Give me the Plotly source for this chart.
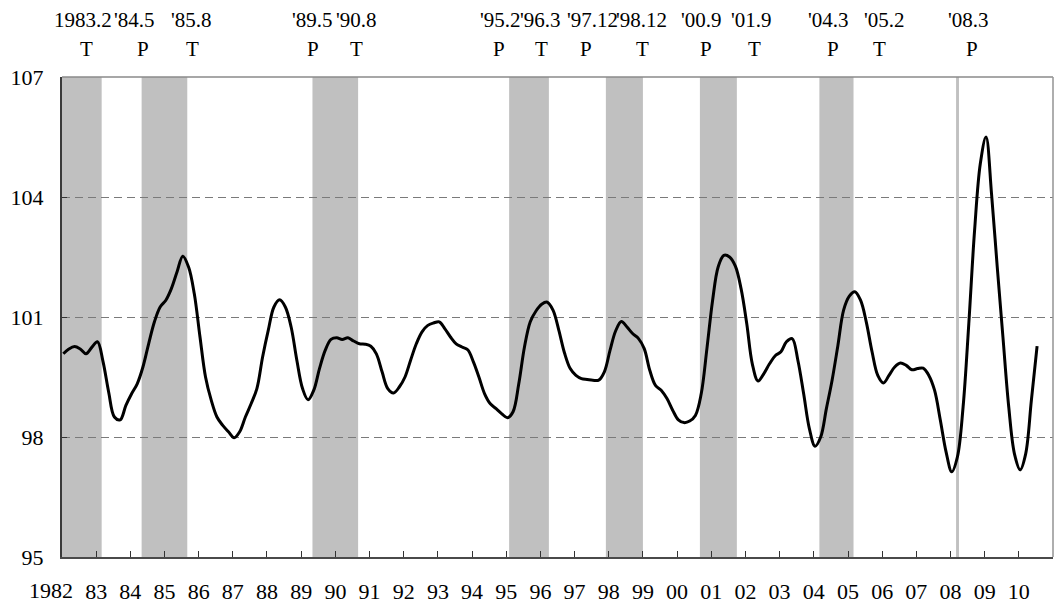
import pandas as pd
import plotly.graph_objects as go

# ---------------- data ----------------
# composite index, sampled every two months (Jan, Mar, May, Jul, Sep, Nov), Jan 1982 - Jul 2010
values = [
    100.08, 100.20, 100.26, 100.20, 100.08, 100.24,   # 1982
    100.38, 99.89, 99.12, 98.50, 98.43, 98.79,        # 1983
    99.08, 99.33, 99.75, 100.33, 100.88, 101.25,      # 1984
    101.42, 101.71, 102.13, 102.52, 102.25, 101.58,   # 1985
    100.50, 99.50, 98.92, 98.50, 98.29, 98.13,        # 1986
    97.98, 98.13, 98.50, 98.83, 99.21, 100.00,        # 1987
    100.67, 101.25, 101.43, 101.25, 100.75, 99.92,    # 1988
    99.21, 98.93, 99.17, 99.71, 100.17, 100.44,       # 1989
    100.48, 100.44, 100.48, 100.40, 100.33, 100.32,   # 1990
    100.27, 100.08, 99.63, 99.21, 99.10, 99.25,       # 1991
    99.50, 99.92, 100.33, 100.63, 100.79, 100.85,     # 1992
    100.88, 100.71, 100.50, 100.33, 100.25, 100.18,   # 1993
    99.88, 99.50, 99.08, 98.83, 98.71, 98.58,         # 1994
    98.48, 98.63, 99.33, 100.25, 100.88, 101.15,      # 1995
    101.32, 101.37, 101.17, 100.68, 100.10, 99.71,    # 1996
    99.54, 99.46, 99.44, 99.42, 99.42, 99.63,         # 1997
    100.17, 100.65, 100.89, 100.75, 100.58, 100.46,   # 1998
    100.21, 99.67, 99.29, 99.17, 98.96, 98.67,        # 1999
    98.43, 98.36, 98.40, 98.54, 99.08, 100.21,        # 2000
    101.42, 102.25, 102.54, 102.50, 102.27, 101.71,   # 2001
    100.83, 99.83, 99.40, 99.58, 99.83, 100.03,       # 2002
    100.13, 100.38, 100.46, 99.92, 99.08, 98.21,      # 2003
    97.77, 98.00, 98.71, 99.42, 100.29, 101.17,       # 2004
    101.52, 101.63, 101.42, 100.88, 100.13, 99.54,    # 2005
    99.35, 99.54, 99.75, 99.85, 99.79, 99.68,         # 2006
    99.71, 99.72, 99.54, 99.17, 98.42, 97.63,         # 2007
    97.13, 97.50, 98.75, 100.83, 103.17, 104.83,      # 2008
    105.50, 104.08, 102.25, 100.50, 98.75, 97.58,     # 2009
    97.18, 97.58, 98.92, 100.27,                      # 2010
]

months = []
for yr in range(1982, 2011):
    for mo in range(1, 12, 2):
        if (yr, mo) <= (2010, 7):
            months.append(f"{yr}-{mo:02d}-15")

# shaded phases: from peak month to trough month (inclusive)
shade_start = ["1982-01", "1984-05", "1989-05", "1995-02", "1997-12",
               "2000-09", "2004-03", "2008-03"]
shade_end = ["1983-02", "1985-08", "1990-08", "1996-03", "1998-12",
             "2001-09", "2005-02", "2008-03"]

# turning points
tp_months = ["1983-02", "1984-05", "1985-08", "1989-05", "1990-08", "1995-02",
             "1996-03", "1997-12", "1998-12", "2000-09", "2001-09", "2004-03",
             "2005-02", "2008-03"]
tp_labels = ["1983.2", "'84.5", "'85.8", "'89.5", "'90.8", "'95.2", "'96.3",
             "'97.12", "'98.12", "'00.9", "'01.9", "'04.3", "'05.2", "'08.3"]
tp_types = ["T", "P", "T", "P", "T", "P", "T", "P", "T", "P", "T", "P", "T", "P"]

tick_years = list(range(1982, 2011))
tick_text = ["1982", "83", "84", "85", "86", "87", "88", "89", "90", "91", "92",
             "93", "94", "95", "96", "97", "98", "99", "00", "01", "02", "03",
             "04", "05", "06", "07", "08", "09", "10"]

y_ticks = [95, 98, 101, 104, 107]

# ---------------- layout constants ----------------
FONT = "Liberation Serif, Times New Roman, serif"
label_shift = [-17, -8, 6, -1, 0, -10, -7, -15, 0, 0, 16, 8, 32, 11]
letter_shift = [-14, 0, 7, -1, 0, -11, -6, -21, 1, 5, 19, 12, 27, 15]

fig = go.Figure()
fig.add_trace(go.Scatter(
    x=months, y=values, mode="lines",
    line=dict(color="black", width=3, shape="spline", smoothing=1.0),
    hoverinfo="skip", showlegend=False,
))

shapes = []
for s, e in zip(shade_start, shade_end):
    x0 = pd.Period(s, "M").start_time.strftime("%Y-%m-%d")
    x1 = (pd.Period(e, "M") + 1).start_time.strftime("%Y-%m-%d")
    shapes.append(dict(type="rect", xref="x", yref="paper", x0=x0, x1=x1,
                       y0=0, y1=1, fillcolor="#C0C0C0", line=dict(width=0),
                       layer="between"))
# top and right frame lines
shapes.append(dict(type="line", xref="paper", yref="paper", x0=0, x1=1, y0=1, y1=1,
                   line=dict(color="#8a8a8a", width=1.6), layer="above"))
shapes.append(dict(type="line", xref="paper", yref="paper", x0=1, x1=1, y0=0, y1=1,
                   line=dict(color="#9a9a9a", width=1.6), layer="above"))

annotations = []
for i, (mth, lab, typ) in enumerate(zip(tp_months, tp_labels, tp_types)):
    xc = pd.Period(mth, "M").start_time + pd.Timedelta(days=14)
    xc = xc.strftime("%Y-%m-%d")
    annotations.append(dict(x=xc, xref="x", y=1.119, yref="paper", text=lab,
                            showarrow=False, xanchor="center", yanchor="middle",
                            xshift=label_shift[i],
                            font=dict(family=FONT, size=21, color="black")))
    annotations.append(dict(x=xc, xref="x", y=1.058, yref="paper", text=typ,
                            showarrow=False, xanchor="center", yanchor="middle",
                            xshift=letter_shift[i],
                            font=dict(family=FONT, size=21, color="black")))

tick_vals = [f"{y}-01-01" for y in tick_years]
# the first year label sits a little left of its tick, as in the original
tick_lbls = [""] + tick_text[1:]
annotations.append(dict(x=tick_vals[0], xref="x", y=-0.0705, yref="paper",
                        text=tick_text[0], showarrow=False, xanchor="center",
                        yanchor="middle", xshift=-11,
                        font=dict(family=FONT, size=22, color="black")))

fig.update_layout(
    width=1055, height=609,
    margin=dict(l=62, r=2, t=77, b=52, autoexpand=False),
    paper_bgcolor="white", plot_bgcolor="white",
    shapes=shapes, annotations=annotations,
    font=dict(family=FONT, size=22, color="black"),
    xaxis=dict(
        type="date", range=["1982-01-01", "2011-01-01"],
        tickmode="array", tickvals=tick_vals, ticktext=tick_lbls,
        tickangle=0,
        showgrid=False, zeroline=False,
        showline=True, linecolor="#4a4a4a", linewidth=2,
        ticks="inside", ticklen=6, tickwidth=1, tickcolor="#333333",
        tickfont=dict(family=FONT, size=22, color="black"),
        ticklabelstandoff=14, automargin=False,
    ),
    yaxis=dict(
        range=[95, 107], tickmode="array", tickvals=y_ticks,
        ticktext=[str(v) for v in y_ticks],
        showgrid=True, gridcolor="#7a7a7a", gridwidth=1.3, griddash="8px,5px",
        zeroline=False,
        showline=True, linecolor="#3a3a3a", linewidth=2,
        ticks="inside", ticklen=5, tickwidth=1, tickcolor="#333333",
        tickfont=dict(family=FONT, size=22, color="black"),
        ticklabelstandoff=12, automargin=False,
    ),
)

fig.write_html(
    "out.html",
    config={"displayModeBar": False},
    post_script="document.body.style.margin='0';document.body.style.overflow='hidden';",
)
